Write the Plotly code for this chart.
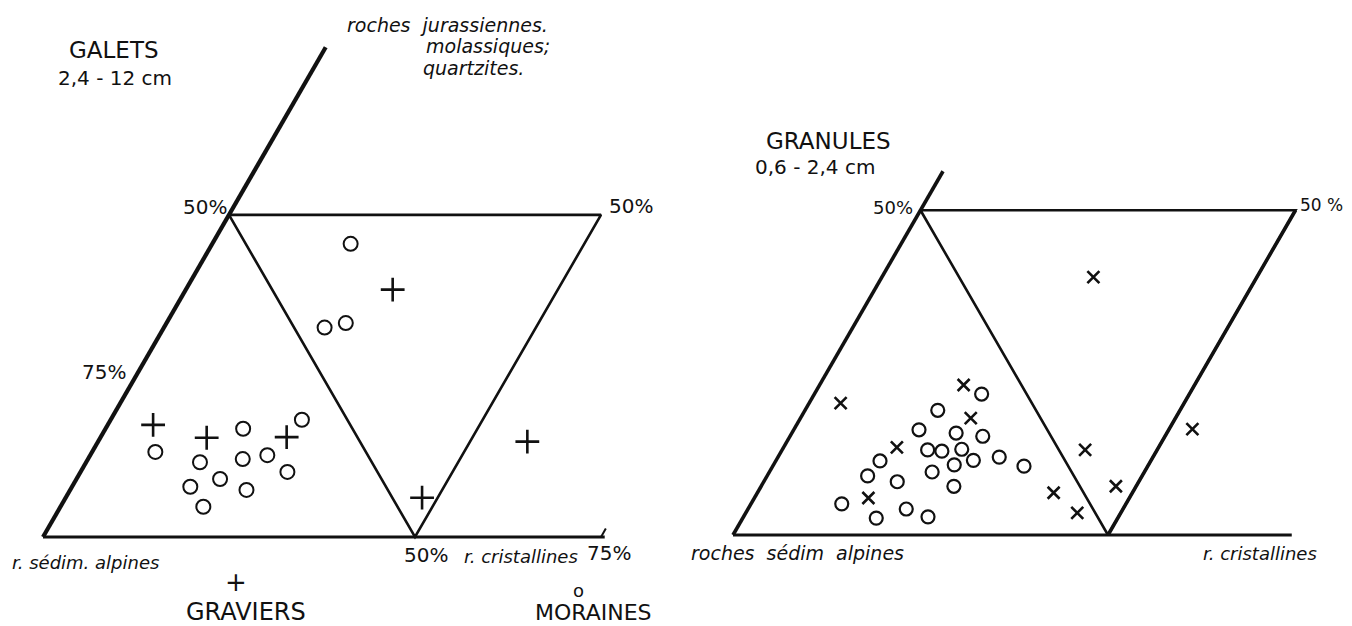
import math
import plotly.graph_objects as go

# ---------------- DATA (ternary %: crist = r. cristallines, jur = roches jurassiennes) ----------------
# GALETS 2,4 - 12 cm
galets_graviers_crist = [6.1, 14.3, 25.0, 27.8, 47.9, 57.7]
galets_graviers_jur = [17.4, 15.4, 15.5, 38.4, 6.1, 14.8]
galets_moraines_crist = [8.5, 15.3, 18.5, 20.8, 23.8, 25.7, 27.8, 19.3, 15.9, 23.7, 19.2, 18.6, 21.6, 24.1]
galets_moraines_jur = [13.2, 11.6, 16.8, 12.1, 12.7, 18.2, 10.1, 9.0, 7.8, 7.3, 4.7, 45.5, 32.5, 33.2]

# GRANULES 0,6 - 2,4 cm
granules_graviers_crist = [4.2, 19.2, 22.7, 15.1, 15.2, 28.2, 40.4, 39.5, 44.2, 47.3, 53.1]
granules_graviers_jur = [20.3, 23.1, 18.0, 13.5, 5.7, 39.7, 13.1, 6.5, 3.4, 7.5, 16.3]
granules_moraines_crist = [22.3, 17.7, 16.7, 21.9, 25.7, 19.4, 21.4, 23.9, 26.3, 29.5, 33.5,
                           13.9, 13.4, 17.8, 21.7, 24.1, 25.7, 12.1, 17.8, 21.1, 24.6]
granules_moraines_jur = [21.7, 19.2, 16.2, 15.7, 15.2, 13.1, 12.9, 13.2, 11.5, 12.0, 10.6,
                         11.4, 9.1, 8.2, 9.7, 10.8, 7.5, 4.8, 2.6, 4.0, 2.8]

# Frame lines of each diagram, in the same ternary % units (crist, jur)
galets_frame = [
    ([0, 0], [0, 76], 4.2),            # axis of roches jurassiennes
    ([0, 75.5], [0, 0], 3.2),          # base
    ([0, 50, 50, 0], [50, 50, 0, 50], 2.6),  # inner triangle
]
granules_frame = [
    ([0, 0], [0, 56], 3.6),
    ([0, 74.5], [0, 0], 3.0),
    ([0, 50, 50, 0], [50, 50, 0, 50], 2.6),
    ([50, 50], [50, 0], 3.6),
]

# ---------------- LAYOUT ----------------
W, H = 1352, 626
PAGE_OFF = 8  # page body margin: shift ranges so data units equal page pixels
LEFT = dict(ox=43, oy=537, L=744)
RIGHT = dict(ox=733, oy=535, L=750)


def tern(crist, jur, p):
    xs = [p["ox"] + p["L"] * (c + j / 2) / 100 for c, j in zip(crist, jur)]
    ys = [p["oy"] - p["L"] * math.sqrt(3) / 2 * j / 100 for j in jur]
    return xs, ys


fig = go.Figure()
INK = "#111111"

for frame, p in ((galets_frame, LEFT), (granules_frame, RIGHT)):
    for cs, js, w in frame:
        xs, ys = tern(cs, js, p)
        fig.add_trace(go.Scatter(x=xs, y=ys, mode="lines",
                                 line=dict(color=INK, width=w), hoverinfo="skip"))

# small tick at end of base (left diagram)
tx, ty = tern([75.0, 75.0], [0, 1.3], LEFT)
fig.add_trace(go.Scatter(x=tx, y=ty, mode="lines", line=dict(color=INK, width=2), hoverinfo="skip"))

x, y = tern(galets_graviers_crist, galets_graviers_jur, LEFT)
fig.add_trace(go.Scatter(x=x, y=y, mode="markers", name="graviers",
                         marker=dict(symbol="cross-thin", size=17, line=dict(color=INK, width=2.6))))
x, y = tern(galets_moraines_crist, galets_moraines_jur, LEFT)
fig.add_trace(go.Scatter(x=x, y=y, mode="markers", name="moraines",
                         marker=dict(symbol="circle-open", size=14, color=INK, line=dict(color=INK, width=2))))
x, y = tern(granules_graviers_crist, granules_graviers_jur, RIGHT)
fig.add_trace(go.Scatter(x=x, y=y, mode="markers", name="graviers",
                         marker=dict(symbol="x-thin", size=12, line=dict(color=INK, width=2.6))))
x, y = tern(granules_moraines_crist, granules_moraines_jur, RIGHT)
fig.add_trace(go.Scatter(x=x, y=y, mode="markers", name="moraines",
                         marker=dict(symbol="circle-open", size=13, color=INK, line=dict(color=INK, width=2.2))))

FONT = "DejaVu Sans"
ann = []


def label(text, x, y, size, xanchor="center"):
    ann.append(dict(text=text, x=x, y=y, xref="x", yref="y", showarrow=False,
                    xanchor=xanchor, yanchor="middle",
                    font=dict(family=FONT, size=size, color=INK)))


# left diagram
label("GALETS", 114, 50, 23)
label("2,4 - 12 cm", 115, 78, 20)
label("<i>roches  jurassiennes.</i>", 345, 25, 19, "left")
label("<i>molassiques;</i>", 424, 46, 19, "left")
label("<i>quartzites.</i>", 421, 68, 19, "left")
label("50%", 229, 207, 20, "right")
label("50%", 607, 206, 20, "left")
label("75%", 80, 372, 20, "left")
label("<i>r. sédim. alpines</i>", 10, 562, 18, "left")
label("50%", 402, 555, 20, "left")
label("<i>r. cristallines</i>", 462, 556, 18, "left")
label("75%", 585, 553, 20, "left")
label("+", 236, 582, 26)
label("GRAVIERS", 246, 612, 24)
label("o", 578, 590, 18)
label("MORAINES", 593, 612, 22)

# right diagram
label("GRANULES", 828, 141, 23)
label("0,6 - 2,4 cm", 815, 167, 20)
label("50%", 915, 207, 18, "right")
label("50 %", 1298, 205, 17, "left")
label("<i>roches  sédim  alpines</i>", 689, 553, 19, "left")
label("<i>r. cristallines</i>", 1201, 553, 18, "left")

fig.update_layout(
    width=W, height=H, margin=dict(l=0, r=0, t=0, b=0),
    paper_bgcolor="white", plot_bgcolor="white", showlegend=False,
    xaxis=dict(range=[PAGE_OFF, W + PAGE_OFF], visible=False, fixedrange=True),
    yaxis=dict(range=[H + PAGE_OFF, PAGE_OFF], visible=False, fixedrange=True),
    annotations=ann,
)

fig.write_html("out.html")
